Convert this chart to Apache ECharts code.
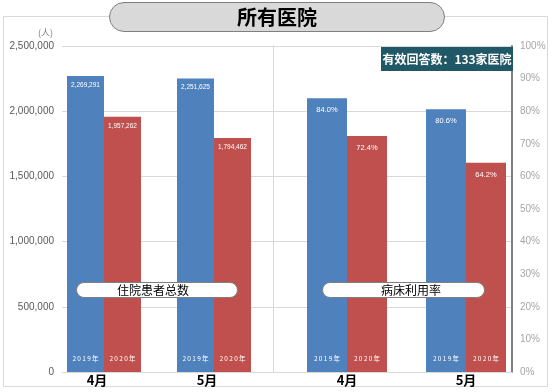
<!DOCTYPE html>
<html>
<head>
<meta charset="utf-8">
<script src="https://cdn.jsdelivr.net/npm/echarts@6/dist/echarts.min.js"></script>
<style>html,body{margin:0;padding:0;background:#fff;}#c{width:555px;height:392px;}</style>
</head>
<body>
<div id="c"></div>
<script>
var months = ['4月', '5月'];
var yearNames = ['2019年', '2020年'];
var patients2019 = [2269291, 2251625];
var patients2020 = [1957262, 1794462];
var bedRate2019 = [84.0, 80.6];
var bedRate2020 = [72.4, 64.2];
var leftTicks = { min: 0, max: 2500000, interval: 500000 };
var rightTicks = { min: 0, max: 100, interval: 10 };

var BLUE = '#4f81bd', RED = '#c0504d';
var FONT = "'Liberation Sans', 'Noto Sans CJK SC', sans-serif";
var CJK = "'Noto Sans CJK SC', sans-serif";

function commas(v) { return String(v).replace(/\B(?=(\d{3})+(?!\d))/g, ','); }
function spaced(s) { return s.split('').join('\u2009'); }

var chart = echarts.init(document.getElementById('c'), null, { renderer: 'canvas' });

function catAxis(grid, padRight) {
  return {
    gridIndex: grid, type: 'category', data: months,
    axisLine: { show: false }, axisTick: { show: false },
    axisLabel: { color: '#000', fontWeight: 'bold', fontSize: 13, fontFamily: CJK, margin: 2, padding: [0, padRight, 0, 0] }
  };
}
function hiddenCat(grid) {
  return { gridIndex: grid, type: 'category', data: months, show: false };
}
function valueBar(name, data, xi, yi, color, width, fs, dist, fmt) {
  return {
    name: name, type: 'bar', xAxisIndex: xi, yAxisIndex: yi, data: data,
    barWidth: width, barGap: '0%', itemStyle: { color: color }, silent: true,
    label: { show: true, position: 'insideTop', distance: dist, color: '#fff', fontSize: fs, fontFamily: FONT, formatter: fmt }
  };
}
function yearBar(name, data, xi, yi, width) {
  return {
    name: name + ' ', type: 'bar', xAxisIndex: xi, yAxisIndex: yi, data: data,
    barWidth: width, barGap: '0%', itemStyle: { color: 'rgba(0,0,0,0)' }, silent: true, z: 5,
    label: { show: true, position: 'insideBottom', distance: 10, color: '#fff', fontSize: 6.5, fontFamily: CJK, formatter: function () { return spaced(name); } }
  };
}

var option = {
  animation: false,
  textStyle: { fontFamily: FONT },
  grid: [
    { left: 62, top: 46, width: 450, height: 326 },
    { left: 49, top: 46, width: 220, height: 326 },
    { left: 287.5, top: 46, width: 238, height: 326 }
  ],
  xAxis: [
    { gridIndex: 0, type: 'category', data: [''], axisLine: { lineStyle: { color: '#d9d9d9' } }, axisTick: { show: false }, axisLabel: { show: false } },
    catAxis(1, 14),
    hiddenCat(1),
    catAxis(2, 0),
    hiddenCat(2)
  ],
  yAxis: [
    {
      gridIndex: 0, type: 'value', position: 'left', min: leftTicks.min, max: leftTicks.max, interval: leftTicks.interval,
      axisLine: { show: false }, axisTick: { show: false },
      splitLine: { lineStyle: { color: '#d9d9d9' } },
      axisLabel: { color: '#595959', fontSize: 10, margin: 8, formatter: function (v) { return commas(v); } },
      name: '(人)', nameLocation: 'end', nameGap: 9,
      nameTextStyle: { color: '#7f7f7f', fontSize: 9, align: 'right', padding: [0, 9, 0, 0], fontFamily: CJK }
    },
    {
      gridIndex: 0, type: 'value', position: 'right', min: rightTicks.min, max: rightTicks.max, interval: rightTicks.interval,
      axisLine: { show: true, lineStyle: { color: '#808080', width: 2 } }, axisTick: { show: false },
      splitLine: { show: false },
      axisLabel: { color: '#a6a6a6', fontSize: 10, margin: 8, formatter: '{value}%' }
    },
    { gridIndex: 1, type: 'value', min: leftTicks.min, max: leftTicks.max, show: false },
    {
      gridIndex: 2, type: 'value', position: 'left', offset: 14.5, min: rightTicks.min, max: rightTicks.max,
      axisLine: { show: true, lineStyle: { color: '#d9d9d9' } }, axisTick: { show: false },
      axisLabel: { show: false }, splitLine: { show: false }
    }
  ],
  series: [
    valueBar(yearNames[0], patients2019, 1, 2, BLUE, 37, 6.5, 6, function (p) { return commas(p.value); }),
    valueBar(yearNames[1], patients2020, 1, 2, RED, 37, 6.5, 6, function (p) { return commas(p.value); }),
    yearBar(yearNames[0], patients2019, 2, 2, 37),
    yearBar(yearNames[1], patients2020, 2, 2, 37),
    valueBar(yearNames[0] + '率', bedRate2019, 3, 3, BLUE, 40, 7.5, 8, function (p) { return p.value.toFixed(1) + '%'; }),
    valueBar(yearNames[1] + '率', bedRate2020, 3, 3, RED, 40, 7.5, 8, function (p) { return p.value.toFixed(1) + '%'; }),
    yearBar(yearNames[0], bedRate2019, 4, 3, 40),
    yearBar(yearNames[1], bedRate2020, 4, 3, 40)
  ],
  graphic: [
    { type: 'rect', z: -10, shape: { x: 3.5, y: 16.5, width: 544, height: 370 }, style: { fill: 'none', stroke: '#d9d9d9', lineWidth: 1 } },
    { type: 'rect', z: 100, shape: { x: 109.5, y: 2.5, width: 335, height: 29, r: 14.5 }, style: { fill: '#d9d9d9', stroke: '#7f7f7f', lineWidth: 1 } },
    { type: 'text', z: 101, x: 277, y: 17, style: { text: '所有医院', fill: '#000', font: 'bold 20px ' + CJK, textAlign: 'center', textVerticalAlign: 'middle' } },
    { type: 'rect', z: 100, shape: { x: 381, y: 47, width: 132, height: 24 }, style: { fill: '#215868' } },
    { type: 'text', z: 101, x: 447, y: 59, style: { text: '有效回答数：133家医院', fill: '#fff', font: 'bold 12px ' + CJK, textAlign: 'center', textVerticalAlign: 'middle' } },
    { type: 'rect', z: 100, shape: { x: 76.5, y: 282.5, width: 161, height: 15, r: 7.5 }, style: { fill: '#fff', stroke: '#7f7f7f', lineWidth: 1 } },
    { type: 'text', z: 101, x: 153, y: 290, style: { text: '住院患者总数', fill: '#000', font: '12px ' + CJK, textAlign: 'center', textVerticalAlign: 'middle' } },
    { type: 'rect', z: 100, shape: { x: 322.5, y: 282.5, width: 162, height: 15, r: 7.5 }, style: { fill: '#fff', stroke: '#7f7f7f', lineWidth: 1 } },
    { type: 'text', z: 101, x: 411, y: 290, style: { text: '病床利用率', fill: '#000', font: '12px ' + CJK, textAlign: 'center', textVerticalAlign: 'middle' } }
  ]
};
chart.setOption(option);
</script>
</body>
</html>
